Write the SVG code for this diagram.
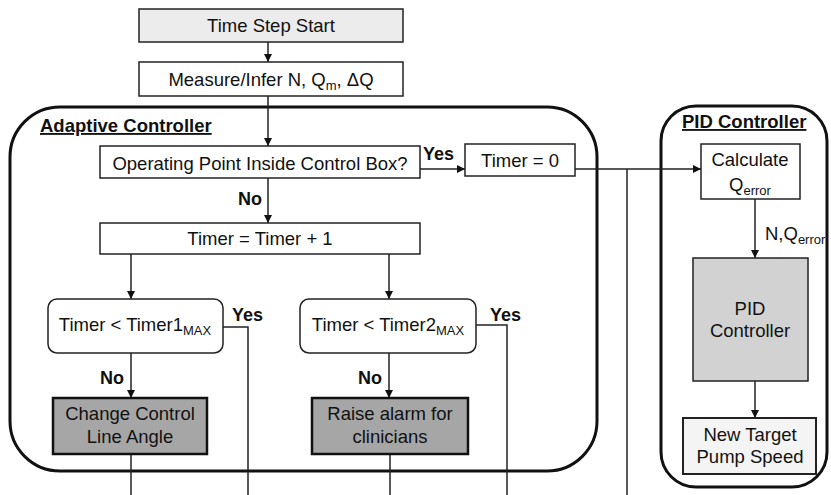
<svg xmlns="http://www.w3.org/2000/svg" width="831" height="495" viewBox="0 0 831 495">
<defs>
<marker id="ah" viewBox="0 0 8 8" refX="8" refY="4" markerWidth="8" markerHeight="8" markerUnits="userSpaceOnUse" orient="auto">
<path d="M0,0 L8,4 L0,8 z" fill="#111"/>
</marker>
</defs>
<style>
text{font-family:"Liberation Sans",Arial,sans-serif;fill:#111;}
.t{font-size:18.5px;text-anchor:middle;}
.b{font-size:18px;font-weight:bold;}
.h{font-size:18.5px;font-weight:bold;text-decoration:underline;}
.sub{font-size:13px;}
.box{stroke:#222;stroke-width:1.5;fill:#fff;}
.dark{stroke:#111;stroke-width:2.5;fill:#a6a6a6;}
.grp{stroke:#111;stroke-width:3;fill:none;}
.c{stroke:#222;stroke-width:1.5;fill:none;}
.a{marker-end:url(#ah);}
</style>
<rect width="831" height="495" fill="#fff"/>
<g id="adaptive-group"><rect class="grp" x="10" y="107" width="587" height="364" rx="50"/><text class="h" x="40" y="132">Adaptive Controller</text></g>
<g id="pid-group"><rect class="grp" x="661" y="106" width="166" height="381" rx="35"/><text class="h" x="682" y="128">PID Controller</text></g>
<g id="connectors">
<path class="c a" d="M268,42 V62"/>
<path class="c a" d="M268,96 V146"/>
<path class="c a" d="M420,169 H465"/>
<path class="c a" d="M268,178 V223"/>
<path class="c a" d="M575,169 H701"/>
<path class="c" d="M627,169 V495"/>
<path class="c a" d="M131,254 V299"/>
<path class="c a" d="M389,254 V299"/>
<path class="c" d="M223,327 H248 V495"/>
<path class="c" d="M476,325 H507 V495"/>
<path class="c a" d="M131,353 V398"/>
<path class="c a" d="M389,353 V398"/>
<path class="c" d="M131,454 V495"/>
<path class="c" d="M390,454 V495"/>
<path class="c a" d="M755,199 V258"/>
<path class="c a" d="M755,381 V418"/>
<text class="b" x="423" y="160">Yes</text>
<text class="b" x="238" y="205">No</text>
<text class="b" x="232" y="321">Yes</text>
<text class="b" x="490" y="321">Yes</text>
<text class="b" x="100" y="384">No</text>
<text class="b" x="358" y="384">No</text>
<text x="765" y="240" style="font-size:18.5px">N,Q<tspan class="sub" dy="4">error</tspan></text>
</g>
<g id="start"><rect class="box" x="139" y="9" width="264" height="33" style="fill:#ececec"/><text class="t" x="271" y="32">Time Step Start</text></g>
<g id="measure"><rect class="box" x="139" y="62" width="264" height="34"/><text class="t" x="271" y="86">Measure/Infer N, Q<tspan class="sub" dy="4">m</tspan><tspan dy="-4">, ΔQ</tspan></text></g>
<g id="inside"><rect class="box" x="100" y="146" width="320" height="32"/><text class="t" x="260" y="170">Operating Point Inside Control Box?</text></g>
<g id="timer0"><rect class="box" x="465" y="144" width="110" height="32"/><text class="t" x="520" y="167">Timer = 0</text></g>
<g id="timerinc"><rect class="box" x="100" y="223" width="320" height="31"/><text class="t" x="260" y="245">Timer = Timer + 1</text></g>
<g id="cmp1"><rect class="box" x="48" y="299" width="175" height="54" rx="9"/><text class="t" x="135" y="331">Timer &lt; Timer1<tspan class="sub" dy="4">MAX</tspan></text></g>
<g id="cmp2"><rect class="box" x="300" y="299" width="176" height="54" rx="9"/><text class="t" x="388" y="331">Timer &lt; Timer2<tspan class="sub" dy="4">MAX</tspan></text></g>
<g id="angle"><rect class="dark" x="53" y="398" width="154" height="56"/><text class="t" x="130" y="420">Change Control</text><text class="t" x="130" y="443">Line Angle</text></g>
<g id="alarm"><rect class="dark" x="312" y="398" width="156" height="56"/><text class="t" x="390" y="420">Raise alarm for</text><text class="t" x="390" y="443">clinicians</text></g>
<g id="calc"><rect class="box" x="701" y="144" width="99" height="55"/><text class="t" x="750" y="166">Calculate</text><text class="t" x="750" y="191">Q<tspan class="sub" dy="4">error</tspan></text></g>
<g id="pid"><rect class="box" x="693" y="258" width="115" height="123" style="fill:#d2d2d2"/><text class="t" x="750" y="315">PID</text><text class="t" x="750" y="337">Controller</text></g>
<g id="target"><rect class="box" x="683" y="418" width="133" height="56" style="fill:#f4f4f4;stroke-width:2"/><text class="t" x="750" y="441">New Target</text><text class="t" x="750" y="463">Pump Speed</text></g>
</svg>
